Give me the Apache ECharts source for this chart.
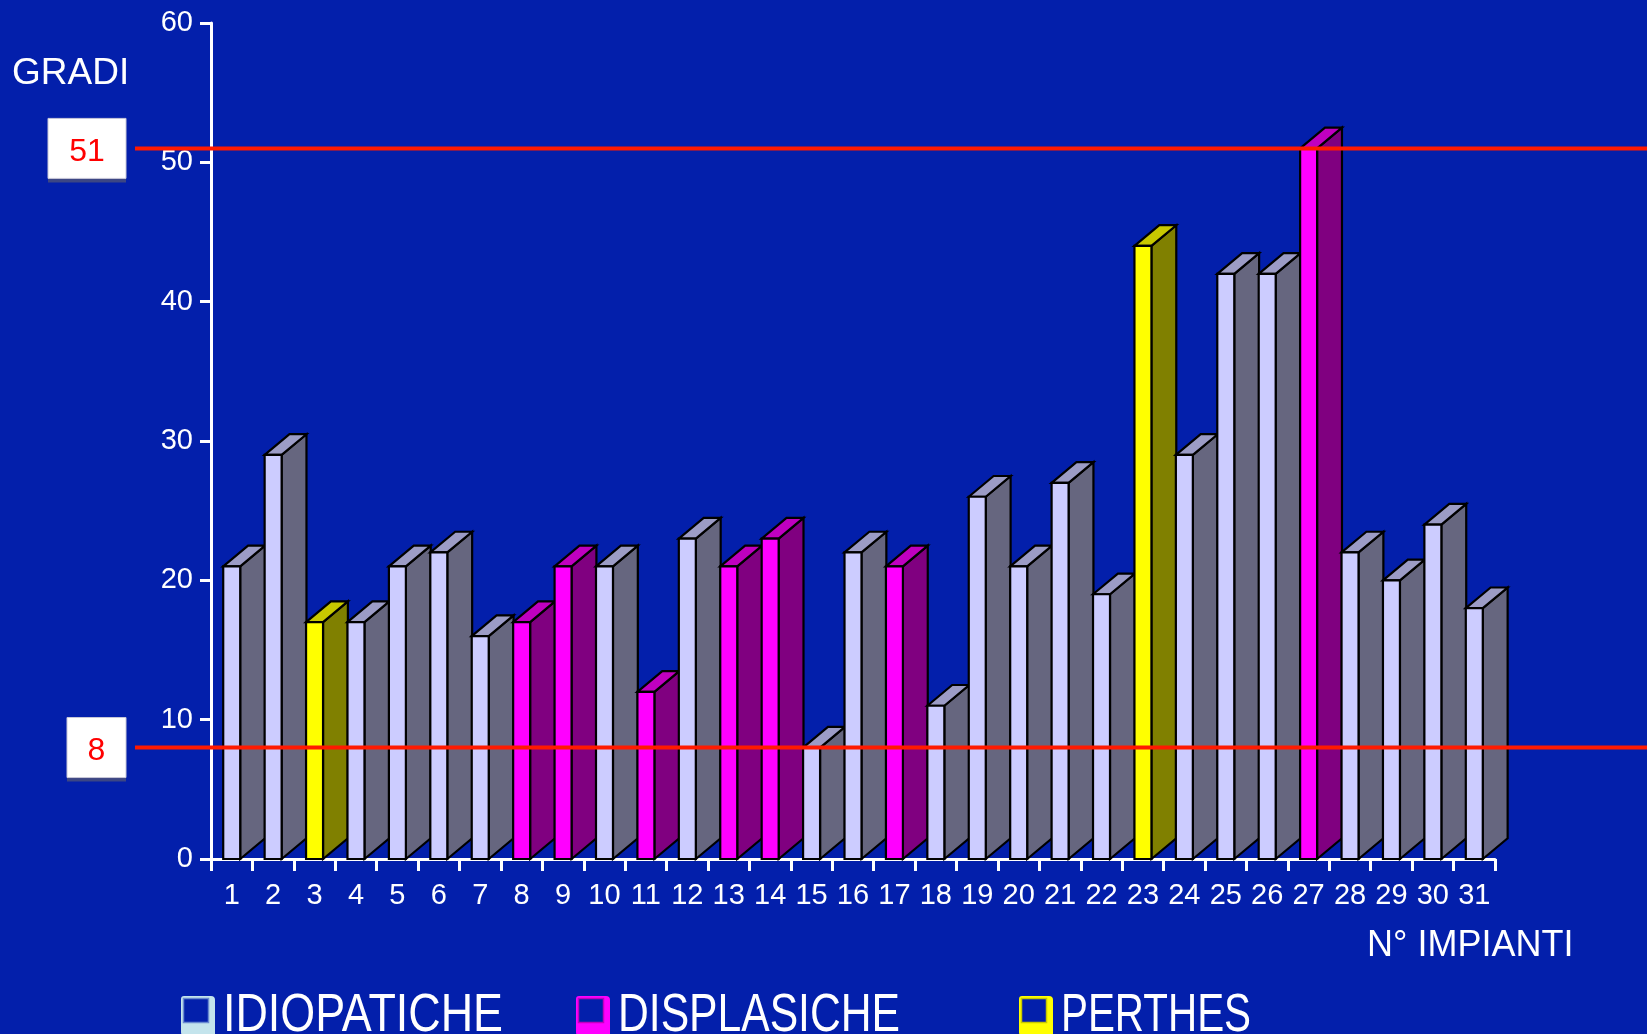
<!DOCTYPE html>
<html>
<head>
<meta charset="utf-8">
<script src="https://cdn.jsdelivr.net/npm/echarts@6/dist/echarts.min.js"></script>
<style>
  html, body { margin: 0; padding: 0; background: #031fab; }
  #graph1 { width: 1647px; height: 1034px; }
</style>
</head>
<body>
<div id="graph1"></div>
<script>
var categorie = ['1','2','3','4','5','6','7','8','9','10','11','12','13','14','15','16','17','18','19','20','21','22','23','24','25','26','27','28','29','30','31'];
var gradi = [21,29,17,17,21,22,16,17,21,21,12,23,21,23,8,22,21,11,26,21,27,19,44,29,42,42,51,22,20,24,18];
// 0 = idiopatiche, 1 = displasiche, 2 = perthes
var gruppo = [0,0,2,0,0,0,0,1,1,0,1,0,1,1,0,0,1,0,0,0,0,0,2,0,0,0,1,0,0,0,0];
var nomiGruppi = ['IDIOPATICHE','DISPLASICHE','PERTHES'];
var soglie = [51, 8];
var yTicks = [0, 10, 20, 30, 40, 50, 60];

var bg = '#031fab';
var fronte = ['#ccccff', '#ff00ff', '#ffff00'];
var lato = ['#66667f', '#800080', '#808000'];
var cima = ['#9c9cc6', '#c000c0', '#c8c800'];
var font = '"Liberation Sans", Arial, sans-serif';

var myChart1 = echarts.init(document.getElementById('graph1'));

var sData = [];
for (var i = 0; i < gradi.length; i++) {
  sData.push([i, gradi[i], gruppo[i]]);
}

function renderBar(params, api) {
  var idx = api.value(0), v = api.value(1), g = api.value(2);
  var top = api.coord([idx, v]);
  var base = api.coord([idx, 0]);
  var cw = api.size([1, 0])[0];
  var fw = cw * 0.41, dx = cw * 0.6, dy = cw * 0.5;
  var x0 = top[0] - fw / 2, x1 = x0 + fw, yt = top[1], yb = base[1];
  var st = { stroke: '#000', lineWidth: 2.2, lineJoin: 'miter' };
  return {
    type: 'group',
    children: [
      { type: 'polygon', shape: { points: [[x1, yb], [x1 + dx, yb - dy], [x1 + dx, yt - dy], [x1, yt]] },
        style: Object.assign({ fill: lato[g] }, st) },
      { type: 'polygon', shape: { points: [[x0, yt], [x0 + dx, yt - dy], [x1 + dx, yt - dy], [x1, yt]] },
        style: Object.assign({ fill: cima[g] }, st) },
      { type: 'rect', shape: { x: x0, y: yt, width: fw, height: yb - yt },
        style: Object.assign({ fill: fronte[g] }, st) }
    ]
  };
}

var option = {
  backgroundColor: bg,
  animation: false,
  grid: { left: 211, right: 152, top: 23, bottom: 175 },
  xAxis: {
    type: 'category',
    data: categorie,
    boundaryGap: true,
    axisLine: { lineStyle: { color: '#fff', width: 3 } },
    axisTick: { show: true, length: 12, lineStyle: { color: '#fff', width: 3 } },
    axisLabel: { color: '#fff', fontSize: 29, fontFamily: font, margin: 22, interval: 0 }
  },
  yAxis: {
    type: 'value',
    min: yTicks[0],
    max: yTicks[yTicks.length - 1],
    interval: 10,
    splitLine: { show: false },
    axisLine: { show: true, lineStyle: { color: '#fff', width: 3 } },
    axisTick: { show: true, length: 11, lineStyle: { color: '#fff', width: 3 } },
    axisLabel: { color: '#fff', fontSize: 29, fontFamily: font, margin: 18 }
  },
  series: [{
    type: 'custom',
    renderItem: renderBar,
    encode: { x: 0, y: 1 },
    data: sData,
    z: 2
  }]
};
myChart1.setOption(option);

var els = [];
// titoli assi
els.push({ type: 'text', left: 12, top: 55, style: { text: 'GRADI', fill: '#fff', font: '37px ' + font } });
els.push({ type: 'text', left: 1367, top: 928, style: { text: 'N° IMPIANTI', fill: '#fff', font: '36px ' + font } });

// soglie
for (var s = 0; s < soglie.length; s++) {
  var y = myChart1.convertToPixel({ yAxisIndex: 0 }, soglie[s]);
  var txt = String(soglie[s]);
  var w = 40 + 19 * txt.length;
  var bx = 126 - w;
  els.push({ type: 'line', z: 100, shape: { x1: 135, y1: y, x2: 1647, y2: y },
             style: { stroke: '#ff1a00', lineWidth: 4 } });
  els.push({ type: 'rect', z: 100, shape: { x: bx, y: y + 28, width: w, height: 6 },
             style: { fill: '#3c4684' } });
  els.push({ type: 'rect', z: 100, shape: { x: bx, y: y - 30, width: w, height: 60 },
             style: { fill: '#fff', stroke: '#c8c8d8', lineWidth: 1 } });
  els.push({ type: 'text', z: 101, x: bx + w / 2, y: y + 4,
             style: { text: txt, fill: '#ff0000', font: '32px ' + font, align: 'center', verticalAlign: 'middle' } });
}

// legenda
var legX = [181, 576, 1019];
var legW = [280, 282, 190];
var iconCol = ['#c4e4ec', '#ff00ff', '#ffff00'];
var iconEdge = ['#6a8ad0', '#c000c0', '#c8c800'];
var ctx = document.createElement('canvas').getContext('2d');
ctx.font = '54px ' + font;
for (var k = 0; k < nomiGruppi.length; k++) {
  var lx = legX[k];
  var sx = legW[k] / ctx.measureText(nomiGruppi[k]).width;
  els.push({ type: 'rect', shape: { x: lx, y: 996, width: 34, height: 42, r: [3, 4, 0, 6] },
             style: { fill: iconCol[k] } });
  els.push({ type: 'rect', shape: { x: lx + 2.5, y: 998.5, width: 25, height: 24 },
             style: { fill: bg, stroke: iconEdge[k], lineWidth: 1.5 } });
  els.push({ type: 'text', x: lx + 42, y: 989, scaleX: sx,
             style: { text: nomiGruppi[k], fill: '#fff', font: '54px ' + font } });
}

myChart1.setOption({ graphic: els });
</script>
</body>
</html>
